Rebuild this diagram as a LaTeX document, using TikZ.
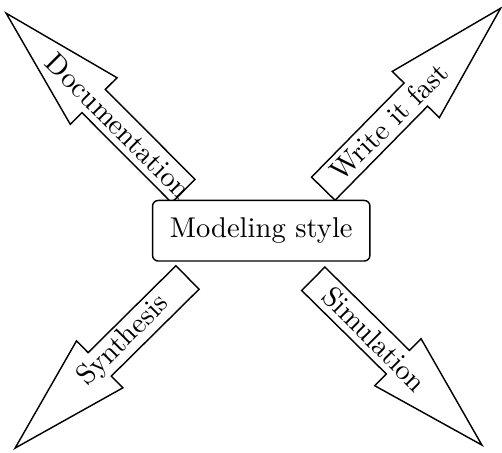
\documentclass[tikz,border=0pt]{standalone}
\usetikzlibrary{calc}
\tikzset{
  arrowline/.style={draw=black, line width=0.5pt, line join=miter},
  arrowtext/.style={font=\fontsize{10}{12}\selectfont, inner sep=0pt},
  centerbox/.style={draw=black, line width=0.5pt, rounded corners=2pt, fill=white,
    minimum width=76.1pt, minimum height=21.2pt, inner sep=0pt,
    font=\fontsize{10}{12}\selectfont}
}
% #1 tail coordinate, #2 angle, #3 length, #4 head length, #5 text position, #6 text rotation, #7 node name, #8 text
\newcommand\bigarrow[8]{%
  \begin{scope}[shift={(#1)},rotate=#2]
    \draw[arrowline] (0,-16.5) -- ({#3-#4},-16.5) -- ({#3-#4},-33) -- (#3,0)
      -- ({#3-#4},33) -- ({#3-#4},16.5) -- (0,16.5) -- cycle;
    \node[arrowtext, rotate=#6] (#7) at (#5,0) {#8};
  \end{scope}}
\begin{document}
\begin{tikzpicture}[x=0.35pt,y=0.35pt]
  \useasboundingbox (0,0) rectangle (502,453);
  \coordinate (tdoc) at (183.3,262);
  \coordinate (twrite) at (323.3,264.3);
  \coordinate (tsyn) at (187.5,175.5);
  \coordinate (tsim) at (313.3,174.2);
  \bigarrow{tdoc}{134.9}{251}{124}{92}{-45}{doc}{Documentation}
  \bigarrow{twrite}{45.5}{253}{121}{94}{45}{write}{Write it fast}
  \bigarrow{tsyn}{224.7}{242.5}{119}{90}{45}{syn}{Synthesis}
  \bigarrow{tsim}{-44.6}{236.8}{118}{86}{-45}{sim}{Simulation}
  \node[centerbox] (box) at (261.25,222.25) {Modeling style};
\end{tikzpicture}
\end{document}
